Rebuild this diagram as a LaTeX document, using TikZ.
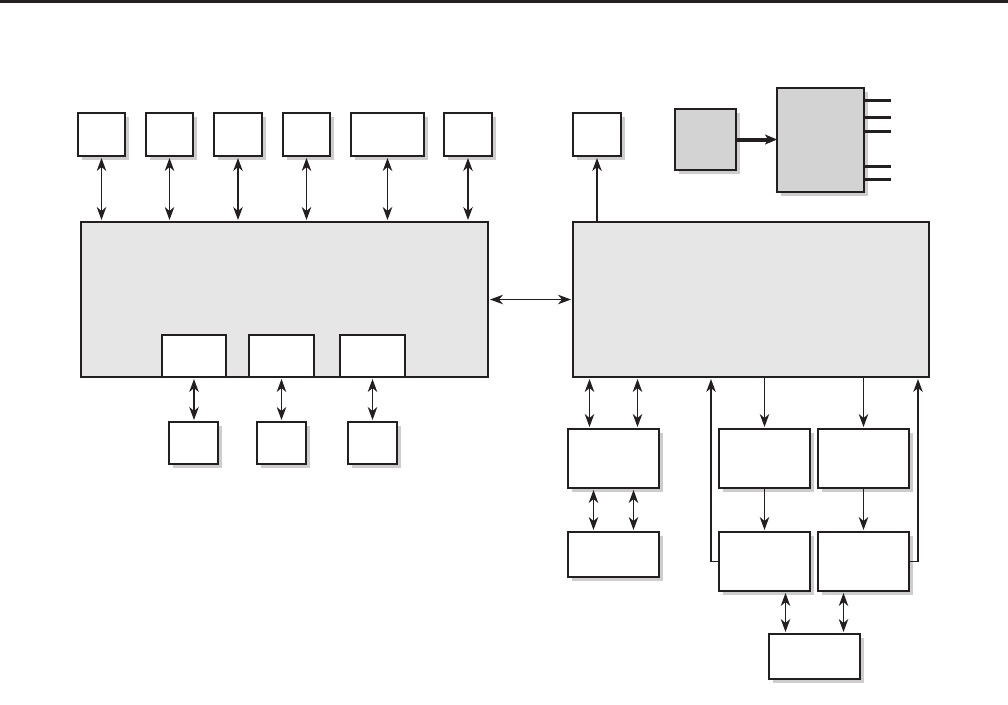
\documentclass[tikz,border=0pt]{standalone}
\usetikzlibrary{arrows.meta,shadows,calc}
\definecolor{ink}{HTML}{231F20}
\definecolor{panel}{HTML}{E6E6E6}
\definecolor{chip}{HTML}{D3D3D3}
\definecolor{shade}{HTML}{CDCDCD}
\tikzset{
  blk/.style={draw=ink, line width=2.2pt, fill=white, inner sep=0pt, outer sep=0pt, anchor=north west,
    drop shadow={shadow xshift=4pt, shadow yshift=-4pt, fill=shade, opacity=1}},
  big/.style={draw=ink, line width=2.2pt, fill=panel, inner sep=0pt, outer sep=0pt, anchor=north west},
  inner/.style={draw=ink, line width=2.2pt, fill=white, inner sep=0pt, outer sep=0pt, anchor=north west},
  gblk/.style={blk, fill=chip},
  tip/.style={Stealth[length=13pt,width=9.5pt,inset=4pt]},
  dbl/.style={draw=ink, line width=1.2pt, {Stealth[length=13pt,width=9.5pt,inset=4pt]}-{Stealth[length=13pt,width=9.5pt,inset=4pt]}, shorten <=2pt, shorten >=2pt},
  one/.style={draw=ink, line width=1.2pt, -{Stealth[length=13pt,width=9.5pt,inset=4pt]}, shorten >=2pt},
  fat/.style={draw=ink, line width=4pt, -{Stealth[length=12pt,width=10pt,inset=3pt]}},
  pin/.style={draw=ink, line width=3pt},
}
\newcommand{\bx}[6]{\node[#1, minimum width=#4pt, minimum height=#5pt] (#2) at (#3) {#6};}
\begin{document}
\begin{tikzpicture}[x=1pt,y=-1pt]
\useasboundingbox (0,0) rectangle (1008,704);
\fill[ink] (0,0) rectangle (1008,2.5);
% top row
\bx{blk}{t1}{78,113}{47}{43}{}
\bx{blk}{t2}{146,113}{47}{43}{}
\bx{blk}{t3}{214,113}{48}{43}{}
\bx{blk}{t4}{283,113}{47}{43}{}
\bx{blk}{t5}{351,113}{73}{43}{}
\bx{blk}{t6}{444,113}{48}{43}{}
\bx{blk}{t7}{573,113}{48}{43}{}
% big boxes
\bx{big}{L}{81,222}{407}{155}{}
\bx{big}{R}{573,222}{356}{155}{}
% inner boxes of L
\bx{inner}{i1}{162,335}{64}{42}{}
\bx{inner}{i2}{249,335}{65}{42}{}
\bx{inner}{i3}{340,335}{65}{42}{}
% lower boxes of L
\bx{blk}{b1}{169,422}{49}{42}{}
\bx{blk}{b2}{257,422}{49}{42}{}
\bx{blk}{b3}{348,422}{49}{42}{}
% grey chips
\bx{gblk}{g1}{675,109}{61}{61}{}
\bx{gblk}{g2}{777,88}{87}{104}{}
% right lower boxes
\bx{blk}{r1}{568,429}{91}{59}{}
\bx{blk}{r2}{568,532}{91}{45}{}
\bx{blk}{r3}{719,429}{91}{59}{}
\bx{blk}{r4}{818,429}{91}{59}{}
\bx{blk}{r5}{719,532}{91}{59}{}
\bx{blk}{r6}{818,532}{91}{59}{}
\bx{blk}{r7}{769,634}{91}{45}{}
% top connectors
\foreach \n in {t1,t2,t3,t4,t5,t6}{
  \draw[dbl] (\n.south) -- (\n.south |- L.north);
}
\draw[one] (t7.south |- R.north) -- (t7.south);
% inner to lower
\foreach \a/\b in {i1/b1,i2/b2,i3/b3}{
  \draw[dbl] (\a.south) -- (\a.south |- \b.north);
}
% L <-> R
\draw[dbl] (L.east) -- (R.west |- L.east);
% chip arrow and pins
\draw[fat] (g1.east) -- (g2.west |- g1.east);
\coordinate (p1) at (891,100);
\coordinate (p2) at (891,117);
\coordinate (p3) at (891,131);
\coordinate (p4) at (891,166);
\coordinate (p5) at (891,179);
\foreach \p in {p1,p2,p3,p4,p5}{
  \draw[pin] (g2.east |- \p) -- (\p);
}
% helper coordinates
\coordinate (a1) at ($(r1.north)+(-24,0)$);
\coordinate (a2) at ($(r1.north)+(24,0)$);
\coordinate (a3) at ($(r1.south)+(-20,0)$);
\coordinate (a4) at ($(r1.south)+(20,0)$);
\coordinate (a5) at ($(r7.north)+(-29,0)$);
\coordinate (a6) at ($(r7.north)+(29,0)$);
% right lower connectors
\draw[dbl] (a1 |- R.south) -- (a1);
\draw[dbl] (a2 |- R.south) -- (a2);
\draw[dbl] (a3) -- (a3 |- r2.north);
\draw[dbl] (a4) -- (a4 |- r2.north);
\draw[one] (r3.north |- R.south) -- (r3.north);
\draw[one] (r4.north |- R.south) -- (r4.north);
\draw[one] (r3.south) -- (r5.north);
\draw[one] (r4.south) -- (r6.north);
\coordinate (fl) at (711,0);
\coordinate (fr) at (918,0);
\draw[one] (r5.west) -- (fl |- r5.west) -- (fl |- R.south);
\draw[one] (r6.east) -- (fr |- r6.east) -- (fr |- R.south);
\draw[dbl] (a5 |- r5.south) -- (a5);
\draw[dbl] (a6 |- r6.south) -- (a6);
\end{tikzpicture}
\end{document}
